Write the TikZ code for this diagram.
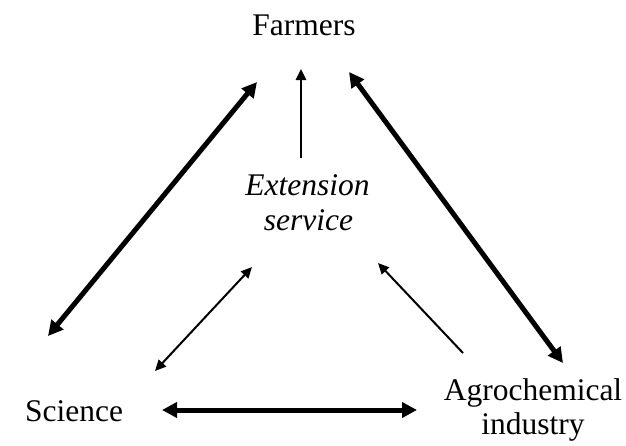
\documentclass[tikz,border=0pt]{standalone}
\usepackage{fontspec}
\setmainfont{Liberation Serif}
\usetikzlibrary{arrows.meta}
\begin{document}
\begin{tikzpicture}[x=1pt,y=-1pt,
  lbl/.style={font=\fontsize{31.5}{35}\selectfont, align=center, inner sep=0pt},
  ilbl/.style={lbl, font=\fontsize{31.5}{35}\selectfont\itshape},
  bigtip/.tip={Triangle[length=15pt,width=15pt]},
  smalltip/.tip={Triangle[length=11pt,width=10pt]},
  thick2/.style={line width=5pt, bigtip-bigtip},
  thin2/.style={line width=2pt, smalltip-smalltip},
  thin1/.style={line width=2pt, -smalltip},
  mid1/.style={line width=2.5pt, -smalltip}]
\useasboundingbox (0,0) rectangle (626,445);
% labels
\node[lbl, anchor=base] (F) at (304,35) {Farmers};
\node[ilbl, anchor=base] (E) at (307.5,195) {Extension};
\node[ilbl, anchor=base] (E2) at (308.5,230) {service};
\node[lbl, anchor=base] (S) at (74,421) {Science};
\node[lbl, anchor=base] (A) at (533,400) {Agrochemical};
\node[lbl, anchor=base] (A2) at (533,434) {industry};
% connector end points
\coordinate (FL) at (257,82);
\coordinate (FM) at (301,69);
\coordinate (FR) at (349,72);
\coordinate (SU) at (48,336);
\coordinate (SE) at (155,371);
\coordinate (SB) at (162,410);
\coordinate (AB) at (417,410);
\coordinate (AU) at (563,363);
\coordinate (AE) at (463,353);
\coordinate (EM) at (301,158);
\coordinate (ES) at (252,267);
\coordinate (EA) at (378,263);
% connectors
\draw[thick2] (SU) -- (FL);
\draw[thick2] (AU) -- (FR);
\draw[thick2] (SB) -- (AB);
\draw[mid1] (EM) -- (FM);
\draw[thin2] (SE) -- (ES);
\draw[thin1] (AE) -- (EA);
\end{tikzpicture}
\end{document}
